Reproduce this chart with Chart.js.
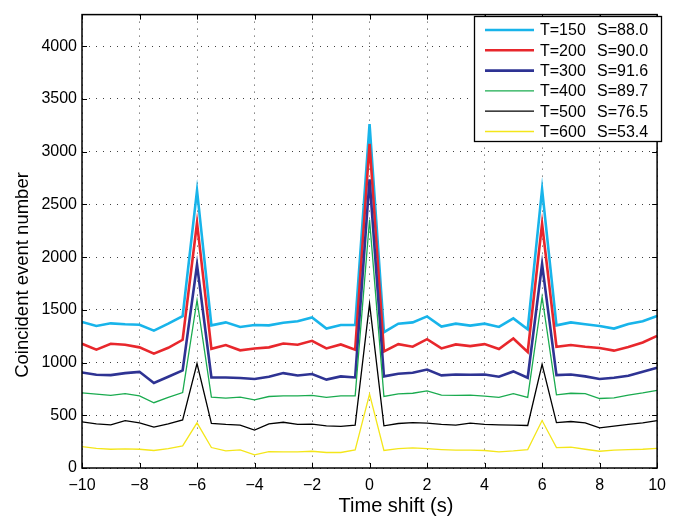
<!DOCTYPE html>
<html>
<head>
<meta charset="utf-8">
<script src="https://cdn.jsdelivr.net/npm/chart.js@4/dist/chart.umd.min.js"></script>
<style>
html,body{margin:0;padding:0;background:#fff;}
#wrap{width:674px;height:523px;position:relative;}
</style>
</head>
<body>
<div id="wrap"><canvas id="c" width="674" height="523"></canvas></div>
<script>
const timeShift = [-10,-9.5,-9,-8.5,-8,-7.5,-7,-6.5,-6,-5.5,-5,-4.5,-4,-3.5,-3,-2.5,-2,-1.5,-1,-0.5,0,0.5,1,1.5,2,2.5,3,3.5,4,4.5,5,5.5,6,6.5,7,7.5,8,8.5,9,9.5,10];

const t150 = [1385,1347,1372,1363,1359,1303,1369,1441,2632,1353,1381,1338,1356,1353,1378,1391,1428,1322,1356,1356,3262,1288,1369,1381,1438,1341,1369,1350,1369,1338,1419,1316,2644,1353,1381,1363,1347,1322,1366,1391,1441];
const t200 = [1178,1122,1178,1169,1144,1084,1140,1216,2325,1130,1166,1116,1134,1144,1181,1169,1206,1134,1172,1122,3075,1106,1175,1150,1222,1134,1172,1156,1175,1128,1228,1100,2316,1150,1166,1150,1138,1113,1147,1191,1253];
const t300 = [906,884,881,900,912,806,866,925,1928,859,859,853,844,866,900,878,891,838,869,859,2737,869,894,903,934,878,887,884,887,866,916,856,1934,881,887,869,844,856,875,912,950];
const t400 = [712,700,688,706,684,619,669,716,1591,673,662,672,647,678,684,684,688,669,684,684,2356,678,703,709,731,691,688,691,681,669,706,669,1622,694,709,706,659,666,691,712,737];
const t500 = [438,419,409,450,428,388,419,456,991,424,413,406,359,419,434,413,416,400,394,406,1559,400,422,431,425,413,406,425,413,409,406,403,984,431,441,428,381,397,413,428,450];
const t600 = [203,187,178,181,178,166,184,209,428,194,162,172,125,156,153,153,159,147,147,172,700,166,184,191,184,175,169,169,166,153,162,175,450,194,197,178,159,169,175,178,187];

const xTickValues = [-10,-8,-6,-4,-2,0,2,4,6,8,10];
const yTickValues = [0,500,1000,1500,2000,2500,3000,3500,4000];

const seriesLabels = ['T=150', 'T=200', 'T=300', 'T=400', 'T=500', 'T=600'];
const seriesScores = ['S=88.0', 'S=90.0', 'S=91.6', 'S=89.7', 'S=76.5', 'S=53.4'];
const seriesValues = [t150, t200, t300, t400, t500, t600];
const seriesColors = ['#18b4ea', '#e8272c', '#2e3393', '#1aab4f', '#000000', '#f4e61a'];
const seriesWidths = [2.6, 2.6, 2.6, 1.3, 1.3, 1.3];

const xTitle = 'Time shift (s)';
const yTitle = 'Coincident event number';

const FONT = '"Liberation Sans", Arial, Helvetica, sans-serif';

const datasets = seriesValues.map((vals, i) => ({
  label: seriesLabels[i] + '  ' + seriesScores[i],
  data: vals.map((v, j) => ({x: timeShift[j], y: v})),
  borderColor: seriesColors[i],
  backgroundColor: seriesColors[i],
  borderWidth: seriesWidths[i],
  pointRadius: 0,
  tension: 0,
  fill: false,
  order: seriesValues.length - i
}));

const decorPlugin = {
  id: 'decor',
  afterDraw(chart) {
    const {ctx, chartArea: a, scales: {x, y}} = chart;
    ctx.save();
    ctx.strokeStyle = '#000';
    ctx.lineWidth = 1;
    const L = 5;
    function seg(x1, y1, x2, y2) { ctx.beginPath(); ctx.moveTo(x1, y1); ctx.lineTo(x2, y2); ctx.stroke(); }
    x.ticks.forEach(t => {
      const px = Math.round(x.getPixelForValue(t.value)) + 0.5;
      seg(px, a.bottom, px, a.bottom - L);
      seg(px, a.top, px, a.top + L);
    });
    y.ticks.forEach(t => {
      const py = Math.round(y.getPixelForValue(t.value)) + 0.5;
      seg(a.left, py, a.left + L, py);
      seg(a.right, py, a.right - L, py);
    });
    ctx.lineWidth = 1.5;
    ctx.strokeRect(a.left, a.top, a.right - a.left, a.bottom - a.top);

    // axis titles
    ctx.fillStyle = '#000';
    ctx.textAlign = 'center';
    ctx.textBaseline = 'middle';
    ctx.font = '20px ' + FONT;
    ctx.fillText(xTitle, 396, 506);
    ctx.save();
    ctx.font = '18.5px ' + FONT;
    ctx.translate(23, 275);
    ctx.rotate(-Math.PI / 2);
    ctx.fillText(yTitle, 0, 0);
    ctx.restore();

    // legend
    const bx = 474.5, by = 16.5, bw = 187, bh = 125;
    ctx.fillStyle = '#fff';
    ctx.fillRect(bx, by, bw, bh);
    ctx.lineWidth = 1.3;
    ctx.strokeStyle = '#000';
    ctx.strokeRect(bx, by, bw, bh);
    ctx.font = '16px ' + FONT;
    ctx.textAlign = 'left';
    ctx.textBaseline = 'middle';
    chart.data.datasets.forEach((ds, i) => {
      const ry = 30 + i * 20.3;
      ctx.strokeStyle = ds.borderColor;
      ctx.lineWidth = ds.borderWidth;
      seg(485, ry, 534, ry);
      ctx.fillStyle = '#000';
      ctx.fillText(seriesLabels[i], 540, ry + 1);
      ctx.fillText(seriesScores[i], 597, ry + 1);
    });
    ctx.restore();
  }
};

const minusFmt = v => String(v).replace('-', '\u2212');

new Chart(document.getElementById('c'), {
  type: 'line',
  data: {datasets},
  options: {
    responsive: false,
    animation: false,
    devicePixelRatio: 1,
    layout: {padding: {top: 8, right: 9, left: 0, bottom: 0}},
    plugins: {legend: {display: false}, tooltip: {enabled: false}},
    scales: {
      x: {
        type: 'linear',
        min: -10, max: 10,
        afterFit: s => { s.height = 55; },
        afterBuildTicks: s => { s.ticks = xTickValues.map(v => ({value: v})); },
        ticks: {color: '#000', font: {family: FONT, size: 16}, padding: 8, maxRotation: 0, autoSkip: false, callback: minusFmt},
        grid: {drawTicks: false, color: 'rgba(0,0,0,0.75)', lineWidth: 1},
        border: {display: false, dash: [1, 6]}
      },
      y: {
        type: 'linear',
        min: 0, max: 4300,
        afterFit: s => { s.width = 82; },
        afterBuildTicks: s => { s.ticks = yTickValues.map(v => ({value: v})); },
        ticks: {color: '#000', font: {family: FONT, size: 16}, padding: 5, autoSkip: false, callback: v => String(v)},
        grid: {drawTicks: false, color: 'rgba(0,0,0,0.75)', lineWidth: 1},
        border: {display: false, dash: [1, 6]}
      }
    }
  },
  plugins: [decorPlugin]
});
</script>
</body>
</html>
